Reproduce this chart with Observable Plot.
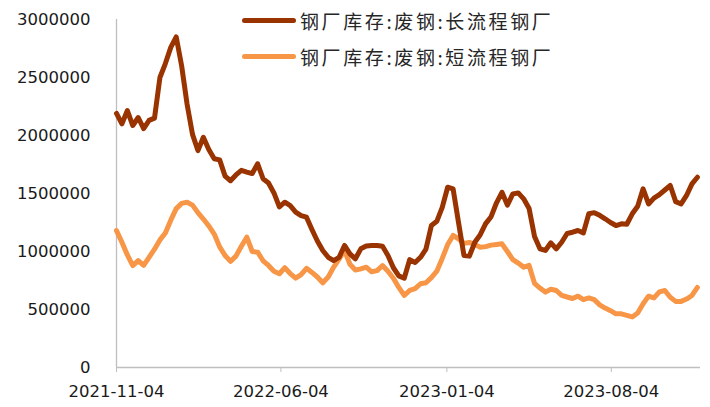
<!DOCTYPE html>
<html>
<head>
<meta charset="utf-8">
<script src="https://cdn.jsdelivr.net/npm/d3@7"></script>
<script src="https://cdn.jsdelivr.net/npm/@observablehq/plot@0.6"></script>
<style>
  html, body { margin: 0; padding: 0; background: #fff; }
  #wrap { position: relative; width: 710px; height: 407px; }
  .legend { position: absolute; left: 242px; font-family: "Noto Sans CJK SC", sans-serif; font-size: 19px; letter-spacing: 2.6px; color: #262626; display: flex; align-items: center; white-space: nowrap; }
  .legend .sw { width: 54px; height: 5px; border-radius: 3px; margin-right: 4px; }
</style>
</head>
<body>
<div id="wrap"></div>
<script>
const seriesNames = ["钢厂库存:废钢:长流程钢厂", "钢厂库存:废钢:短流程钢厂"];
const seriesColors = ["#993300", "#F79646"];
const startDate = "2021-11-04";
const weekCount = 108;
// values in thousand tonnes
const longProcess = [2190,2100,2215,2086,2155,2060,2130,2150,2500,2620,
 2760,2850,2600,2270,2010,1870,1985,1880,1800,1790,
 1650,1610,1660,1700,1685,1672,1756,1627,1590,1505,
 1385,1425,1395,1340,1310,1296,1190,1090,1009,950,
 922,950,1052,980,937,1023,1047,1052,1052,1045,
 966,860,790,770,930,905,950,1020,1224,1260,
 1380,1554,1540,1250,966,960,1080,1145,1240,1300,
 1420,1510,1400,1497,1505,1454,1370,1130,1023,1009,
 1075,1023,1080,1155,1166,1181,1160,1325,1335,1312,
 1282,1250,1224,1239,1235,1325,1390,1540,1410,1460,
 1490,1530,1569,1430,1410,1483,1583,1640];
const shortProcess = [1180,1080,970,879,922,880,950,1020,1100,1160,
 1270,1370,1415,1425,1400,1335,1280,1220,1150,1040,
 965,915,960,1045,1123,1000,994,920,880,830,
 808,860,810,770,800,855,820,780,730,780,
 865,935,1009,890,840,850,865,825,835,879,
 830,770,690,621,664,680,722,730,775,830,
 940,1060,1138,1110,1070,1078,1060,1037,1042,1055,
 1060,1066,1000,930,900,865,880,725,685,650,
 675,664,621,608,595,615,585,600,585,540,
 512,490,463,463,450,436,470,550,615,600,
 652,664,606,570,570,590,621,690];
const xTickLabels = ["2021-11-04", "2022-06-04", "2023-01-04", "2023-08-04"];
const xDomainEnd = "2023-11-27";
const yTicks = [0, 500000, 1000000, 1500000, 2000000, 2500000, 3000000];

const start = new Date(startDate + "T00:00:00Z");
const dates = d3.range(weekCount).map(i => d3.utcDay.offset(start, i * 7));
const data = [];
dates.forEach((d, i) => {
  data.push({date: d, value: longProcess[i] * 1000, series: seriesNames[0]});
  data.push({date: d, value: shortProcess[i] * 1000, series: seriesNames[1]});
});
const xTicks = xTickLabels.map(s => new Date(s + "T00:00:00Z"));
const x0 = start, x1 = new Date(xDomainEnd + "T00:00:00Z");

const chart = Plot.plot({
  width: 710,
  height: 407,
  marginLeft: 116,
  marginRight: 10,
  marginTop: 19,
  marginBottom: 40,
  style: {fontFamily: "DejaVu Sans, sans-serif", fontSize: "16.5px", color: "#1a1a1a", background: "#fff"},
  x: {type: "utc", domain: [x0, x1]},
  y: {domain: [0, 3000000]},
  color: {domain: seriesNames, range: seriesColors},
  marks: [
    Plot.ruleX([x0], {stroke: "#bfbfbf", strokeWidth: 1.3}),
    Plot.ruleY([0], {stroke: "#bfbfbf", strokeWidth: 1.3}),
    Plot.axisX({ticks: xTicks, tickFormat: d3.utcFormat("%Y-%m-%d"), tickSize: 5, tickPadding: 13, stroke: "#bfbfbf", label: null, fill: "#1a1a1a"}),
    Plot.axisY({ticks: yTicks, tickFormat: d3.format("d"), tickSize: 0, tickPadding: 26, label: null, fill: "#1a1a1a"}),
    Plot.line(data.filter(d => d.series === seriesNames[1]), {x: "date", y: "value", stroke: "series", strokeWidth: 5, strokeLinejoin: "round", strokeLinecap: "round"}),
    Plot.line(data.filter(d => d.series === seriesNames[0]), {x: "date", y: "value", stroke: "series", strokeWidth: 5, strokeLinejoin: "round", strokeLinecap: "round"})
  ]
});
const wrap = document.getElementById("wrap");
wrap.appendChild(chart);
const tops = [7, 43];
seriesNames.forEach((name, i) => {
  const el = document.createElement("div");
  el.className = "legend";
  el.style.top = tops[i] + "px";
  el.innerHTML = `<span class="sw" style="background:${seriesColors[i]}"></span><span>${name}</span>`;
  wrap.appendChild(el);
});
</script>
</body>
</html>
